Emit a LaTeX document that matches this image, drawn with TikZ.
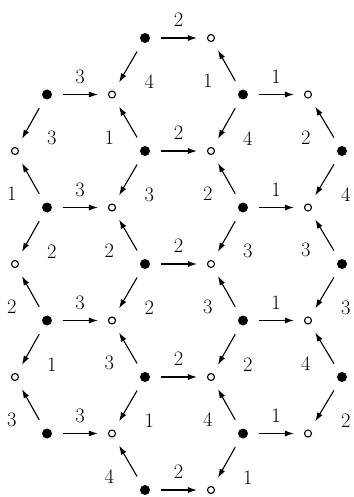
\documentclass[tikz,border=0pt]{standalone}
\usetikzlibrary{arrows.meta}

\begin{document}
\begin{tikzpicture}[
  x=1pt, y=-1pt,
  font=\fontsize{20.5}{24}\selectfont,
  dotf/.style={circle, fill=black, inner sep=0pt, minimum size=10pt},
  doto/.style={circle, draw=black, line width=1.1pt, fill=white, inner sep=0pt, minimum size=7pt},
  arr/.style={-{Latex[length=9pt,width=6pt]}, line width=1.1pt, shorten <=10.5pt, shorten >=10pt},
  ab/.style={midway, yshift=18pt, inner sep=0pt},
  dl/.style={midway, xshift=21pt, yshift=-15pt, inner sep=0pt},
  ul/.style={midway, xshift=-19pt, yshift=-15pt, inner sep=0pt}
]
\useasboundingbox (0,0) rectangle (353,497);

% row 1
\node[dotf] (f1B) at (145, 38) {};
\node[doto] (o1c) at (211, 38) {};
% row 2
\node[dotf] (f2A) at ( 47, 94.5) {};
\node[doto] (o2b) at (112, 94.5) {};
\node[dotf] (f2C) at (243, 94.5) {};
\node[doto] (o2d) at (308, 94.5) {};
% row 3
\node[doto] (o3a) at ( 15,151) {};
\node[dotf] (f3B) at (145,151) {};
\node[doto] (o3c) at (211,151) {};
\node[dotf] (f3D) at (342,151) {};
% row 4
\node[dotf] (f4A) at ( 47,207.5) {};
\node[doto] (o4b) at (112,207.5) {};
\node[dotf] (f4C) at (243,207.5) {};
\node[doto] (o4d) at (308,207.5) {};
% row 5
\node[doto] (o5a) at ( 15,264) {};
\node[dotf] (f5B) at (145,264) {};
\node[doto] (o5c) at (211,264) {};
\node[dotf] (f5D) at (342,264) {};
% row 6
\node[dotf] (f6A) at ( 47,320.5) {};
\node[doto] (o6b) at (112,320.5) {};
\node[dotf] (f6C) at (243,320.5) {};
\node[doto] (o6d) at (308,320.5) {};
% row 7
\node[doto] (o7a) at ( 15,377) {};
\node[dotf] (f7B) at (145,377) {};
\node[doto] (o7c) at (211,377) {};
\node[dotf] (f7D) at (342,377) {};
% row 8
\node[dotf] (f8A) at ( 47,433.5) {};
\node[doto] (o8b) at (112,433.5) {};
\node[dotf] (f8C) at (243,433.5) {};
\node[doto] (o8d) at (308,433.5) {};
% row 9
\node[dotf] (f9B) at (145,490) {};
\node[doto] (o9c) at (211,490) {};

% arrows
\draw[arr] (f1B) -- node[ab]{2} (o1c);
\draw[arr] (f1B) -- node[dl]{4} (o2b);

\draw[arr] (f2A) -- node[ab]{3} (o2b);
\draw[arr] (f2A) -- node[dl]{3} (o3a);
\draw[arr] (f2C) -- node[ul]{1} (o1c);
\draw[arr] (f2C) -- node[ab]{1} (o2d);
\draw[arr] (f2C) -- node[dl]{4} (o3c);

\draw[arr] (f3B) -- node[ul]{1} (o2b);
\draw[arr] (f3B) -- node[ab]{2} (o3c);
\draw[arr] (f3B) -- node[dl]{3} (o4b);
\draw[arr] (f3D) -- node[ul]{2} (o2d);
\draw[arr] (f3D) -- node[dl]{4} (o4d);

\draw[arr] (f4A) -- node[ul]{1} (o3a);
\draw[arr] (f4A) -- node[ab]{3} (o4b);
\draw[arr] (f4A) -- node[dl]{2} (o5a);
\draw[arr] (f4C) -- node[ul]{2} (o3c);
\draw[arr] (f4C) -- node[ab]{1} (o4d);
\draw[arr] (f4C) -- node[dl]{3} (o5c);

\draw[arr] (f5B) -- node[ul]{2} (o4b);
\draw[arr] (f5B) -- node[ab]{2} (o5c);
\draw[arr] (f5B) -- node[dl]{2} (o6b);
\draw[arr] (f5D) -- node[ul]{3} (o4d);
\draw[arr] (f5D) -- node[dl]{3} (o6d);

\draw[arr] (f6A) -- node[ul]{2} (o5a);
\draw[arr] (f6A) -- node[ab]{3} (o6b);
\draw[arr] (f6A) -- node[dl]{1} (o7a);
\draw[arr] (f6C) -- node[ul]{3} (o5c);
\draw[arr] (f6C) -- node[ab]{1} (o6d);
\draw[arr] (f6C) -- node[dl]{2} (o7c);

\draw[arr] (f7B) -- node[ul]{3} (o6b);
\draw[arr] (f7B) -- node[ab]{2} (o7c);
\draw[arr] (f7B) -- node[dl]{1} (o8b);
\draw[arr] (f7D) -- node[ul]{4} (o6d);
\draw[arr] (f7D) -- node[dl]{2} (o8d);

\draw[arr] (f8A) -- node[ul]{3} (o7a);
\draw[arr] (f8A) -- node[ab]{3} (o8b);
\draw[arr] (f8C) -- node[ul]{4} (o7c);
\draw[arr] (f8C) -- node[ab]{1} (o8d);
\draw[arr] (f8C) -- node[dl]{1} (o9c);

\draw[arr] (f9B) -- node[ul]{4} (o8b);
\draw[arr] (f9B) -- node[ab]{2} (o9c);
\end{tikzpicture}
\end{document}
